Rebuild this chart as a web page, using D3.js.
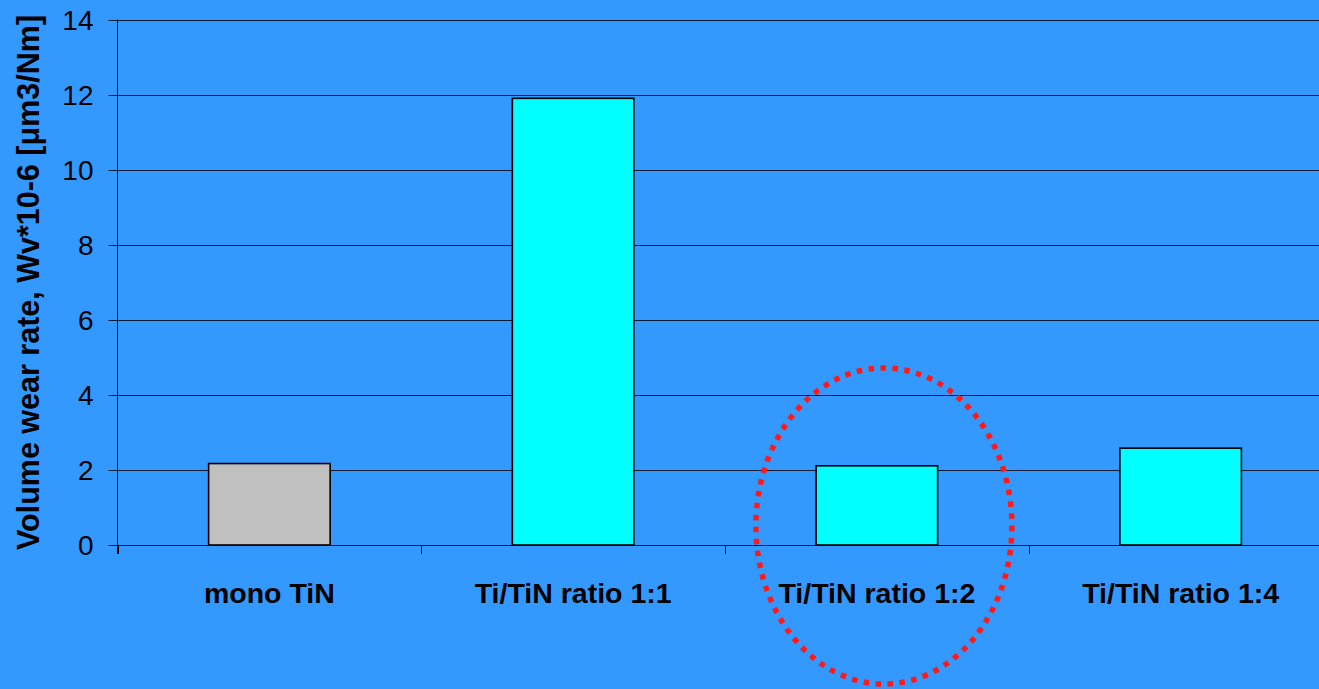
<!DOCTYPE html>
<html>
<head>
<meta charset="utf-8">
<script src="https://cdn.jsdelivr.net/npm/d3@7"></script>
<style>
  html, body { margin: 0; padding: 0; background: #3399ff; overflow: hidden; }
  svg { display: block; }
  text { font-family: "Liberation Sans", Arial, sans-serif; fill: #000; }
</style>
</head>
<body>
<svg id="chart" width="1319" height="689"></svg>
<script>
// Wear-rate data per coating
const categories = ["mono TiN", "Ti/TiN ratio 1:1", "Ti/TiN ratio 1:2", "Ti/TiN ratio 1:4"];
const wearRate = [2.17, 11.9, 2.11, 2.58];
const barColors = ["#c0c0c0", "#00ffff", "#00ffff", "#00ffff"];
const yTicks = [0, 2, 4, 6, 8, 10, 12, 14];
const yTitle = "Volume wear rate, Wv*10-6 [\u03bcm3/Nm]";
const highlighted = "Ti/TiN ratio 1:2";

(function () {
  const svg = d3.select("#chart");
  const W = 1319, H = 689;

  const plotLeft = 117.5, plotTop = 19.5, plotBottom = 545;
  const plotW = 1215;

  const x = d3.scaleBand()
    .domain(categories)
    .range([plotLeft, plotLeft + plotW])
    .paddingInner(0.6)
    .paddingOuter(0.3);

  const y = d3.scaleLinear().domain([0, 14]).range([plotBottom, plotTop]);

  // background
  svg.append("rect").attr("width", W).attr("height", H).attr("fill", "#3399ff");

  // horizontal gridlines
  svg.append("g")
    .selectAll("line")
    .data(yTicks)
    .join("line")
    .attr("x1", plotLeft - 9).attr("x2", plotLeft + plotW)
    .attr("y1", d => Math.round(y(d)) + 0.5).attr("y2", d => Math.round(y(d)) + 0.5)
    .attr("stroke", "#0a1a33").attr("stroke-width", 1.2);

  // y tick labels
  svg.append("g")
    .selectAll("text")
    .data(yTicks)
    .join("text")
    .attr("x", plotLeft - 24)
    .attr("y", d => y(d))
    .attr("dy", "0.36em")
    .attr("text-anchor", "end")
    .style("font-size", "28px")
    .text(d => d);

  // y axis line
  svg.append("line")
    .attr("x1", plotLeft).attr("x2", plotLeft)
    .attr("y1", plotTop).attr("y2", plotBottom + 9)
    .attr("stroke", "#000").attr("stroke-width", 1);

  // category boundary ticks on x axis
  const step = x.step();
  svg.append("g")
    .selectAll("line")
    .data(categories)
    .join("line")
    .attr("x1", d => Math.round(x(d) - step * 0.3) + 0.5)
    .attr("x2", d => Math.round(x(d) - step * 0.3) + 0.5)
    .attr("y1", plotBottom).attr("y2", plotBottom + 9)
    .attr("stroke", "#000").attr("stroke-width", 1);

  // bars
  svg.append("g")
    .selectAll("rect")
    .data(categories)
    .join("rect")
    .attr("x", d => x(d))
    .attr("width", x.bandwidth())
    .attr("y", (d, i) => y(wearRate[i]))
    .attr("height", (d, i) => plotBottom - y(wearRate[i]))
    .attr("fill", (d, i) => barColors[i])
    .attr("stroke", "#000")
    .attr("stroke-width", 1.6);

  // category labels
  svg.append("g")
    .selectAll("text")
    .data(categories)
    .join("text")
    .attr("x", d => x(d) + x.bandwidth() / 2)
    .attr("y", 603)
    .attr("text-anchor", "middle")
    .style("font-size", "28.5px")
    .style("font-weight", "bold")
    .text(d => d);

  // y axis title
  svg.append("text")
    .attr("transform", `translate(39, 282.5) rotate(-90)`)
    .attr("text-anchor", "middle")
    .style("font-size", "30.5px")
    .style("font-weight", "bold")
    .text(yTitle);

  // dotted ellipse around the highlighted coating
  svg.append("ellipse")
    .attr("cx", x(highlighted) + x.bandwidth() / 2 + 7)
    .attr("cy", 526)
    .attr("rx", 128)
    .attr("ry", 158)
    .attr("fill", "none")
    .attr("stroke", "#ff1a1a")
    .attr("stroke-width", 5.5)
    .attr("stroke-dasharray", "5.5,6.5");
})();
</script>
</body>
</html>
